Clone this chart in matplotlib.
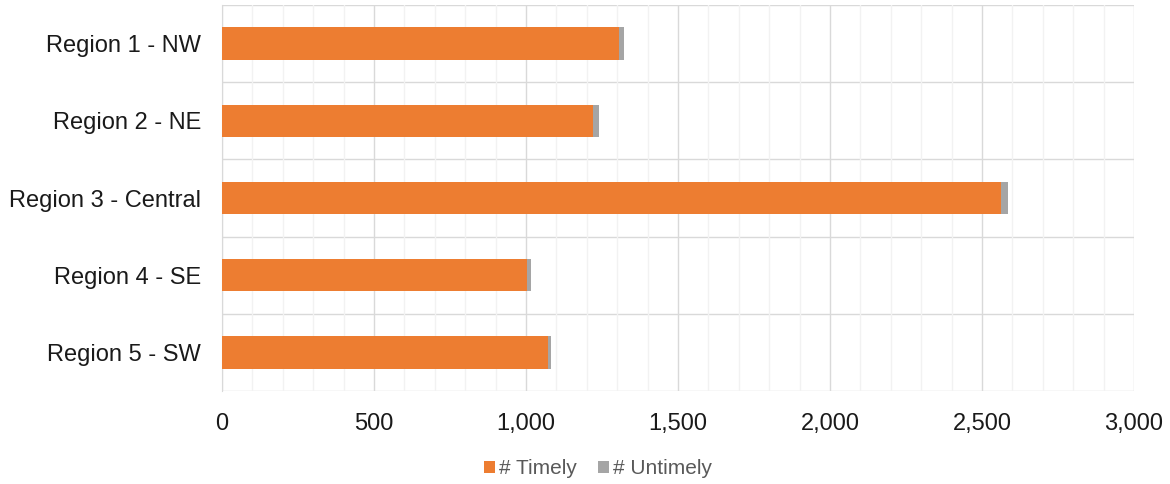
import matplotlib
matplotlib.use('Agg')
from matplotlib import pyplot as plt
from matplotlib.ticker import MultipleLocator, FuncFormatter

regions = ['Region 1 - NW', 'Region 2 - NE', 'Region 3 - Central', 'Region 4 - SE', 'Region 5 - SW']
timely = [1307, 1221, 2562, 1003, 1072]
untimely = [15, 18, 22, 13, 10]

plt.rcParams['font.family'] = ['Liberation Sans', 'DejaVu Sans']

fig = plt.figure(figsize=(11.7, 4.84), dpi=100)
ax = fig.add_axes([222 / 1170, 1 - 391 / 484, (1134 - 222) / 1170, (391 - 5) / 484])

y = list(range(len(regions)))
ax.barh(y, timely, height=0.42, color='#ED7D31', label='# Timely', zorder=3)
ax.barh(y, untimely, left=timely, height=0.42, color='#A5A5A5', label='# Untimely', zorder=3)

ax.set_xlim(0, 3000)
ax.set_ylim(len(regions) - 0.5, -0.5)
ax.set_yticks(y)
ax.set_yticklabels(regions)

ax.xaxis.set_major_locator(MultipleLocator(500))
ax.xaxis.set_minor_locator(MultipleLocator(100))
ax.xaxis.set_major_formatter(FuncFormatter(lambda v, p: f'{int(v):,}'))
ax.grid(True, which='major', axis='x', color='#D9D9D9', linewidth=1, zorder=0)
ax.grid(True, which='minor', axis='x', color='#F2F2F2', linewidth=1, zorder=0)

for b in [i - 0.5 for i in range(len(regions) + 1)]:
    ax.axhline(b, color='#D9D9D9', linewidth=1, zorder=1)

for s in ['top', 'right', 'bottom']:
    ax.spines[s].set_visible(False)
ax.spines['left'].set_color('#D9D9D9')

ax.tick_params(axis='both', which='both', length=0, labelsize=17, colors='#1a1a1a')
ax.tick_params(axis='x', pad=16)
ax.tick_params(axis='y', pad=15)

handles, labels = ax.get_legend_handles_labels()
fig.legend(handles, labels, loc='center', bbox_to_anchor=(598 / 1170, 1 - 469 / 484), ncol=2,
           frameon=False, fontsize=15, labelcolor='#595959', handlelength=0.55,
           handleheight=0.55, handletextpad=0.2, columnspacing=1.0)

fig.savefig('out.png', dpi=100)
